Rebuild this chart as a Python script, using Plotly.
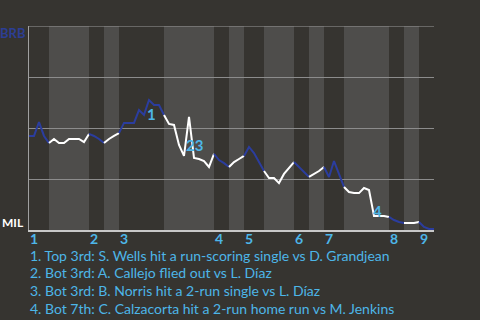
import plotly.graph_objects as go

# ---- data ----
# BRB win probability (%) after each plate appearance (index 0..81)
brb_wp = [46.1, 46.1, 52.9, 46.1, 42.6,
          44.6, 42.6, 42.6, 44.6, 44.6, 44.6, 43.1, 47.1,
          46.1, 44.6, 42.6,
          44.6, 46.1, 47.5,
          52.5, 52.5, 52.5, 58.8, 56.4, 63.7, 61.3, 61.3, 56.4,
          52.0, 51.5, 41.7, 36.3, 55.4, 35.3, 34.8, 33.8, 30.9, 37.3,
          34.3, 32.8, 30.9,
          33.3, 34.8, 36.3,
          40.7, 37.7, 33.3, 28.9,
          25.5, 25.5, 23.0, 27.5, 30.4, 33.3,
          30.9, 28.4, 26.0,
          27.5, 28.9, 30.9,
          26.0, 33.8, 27.5, 21.1,
          18.6, 18.1, 18.1, 20.6, 19.6, 6.9, 6.9, 6.9, 6.4,
          4.9, 3.9, 3.4,
          3.4, 3.4, 3.9,
          1.5, 0.5, 0.5]

# half-inning start indices (top 1st, bot 1st, top 2nd, ...), last ends at 81
half_starts = [0, 4, 12, 15, 18, 27, 37, 40, 43, 47, 53, 56, 59, 63, 72, 75, 78]
game_end = 81
inning_labels = ["1", "2", "3", "4", "5", "6", "7", "8", "9"]

# key events: label, PA index for marker label, label height (BRB %)
event_labels = ["1", "23", "4"]
event_x = [24.4, 33.0, 69.6]
event_y = [56.9, 41.7, 9.3]

event_notes = [
    "1. Top 3rd: S. Wells hit a run-scoring single vs D. Grandjean",
    "2. Bot 3rd: A. Callejo flied out vs L. Díaz",
    "3. Bot 3rd: B. Norris hit a 2-run single vs L. Díaz",
    "4. Bot 7th: C. Calzacorta hit a 2-run home run vs M. Jenkins",
]
away_team = "BRB"
home_team = "MIL"

# ---- style ----
BG = "#363430"
BAND = "#4e4d4b"
BLUE_LINE = "#2b3d9e"
TEXT_BLUE = "#4db6e8"
FONT = "Lato"

fig = go.Figure()

half_ends = half_starts[1:] + [game_end]
shapes = []
for i, (s, e) in enumerate(zip(half_starts, half_ends)):
    is_top = (i % 2 == 0)
    if not is_top:
        shapes.append(dict(type="rect", xref="x", yref="y", x0=s, x1=e, y0=0, y1=100,
                           fillcolor=BAND, line=dict(width=0), layer="below"))
    xs = list(range(s, e + 1))
    fig.add_trace(go.Scatter(
        x=xs, y=brb_wp[s:e + 1], mode="lines",
        line=dict(color=BLUE_LINE if is_top else "#ffffff", width=2),
        hoverinfo="skip", showlegend=False))

# top border line
shapes.append(dict(type="line", xref="x", yref="y", x0=0, x1=game_end, y0=100, y1=100,
                   line=dict(color="#9a9a9a", width=1.2)))

annotations = []
# inning labels at the start of each inning (top halves)
for k, lab in enumerate(inning_labels):
    annotations.append(dict(x=half_starts[2 * k], y=0, xref="x", yref="y", text=lab,
                            showarrow=False, xanchor="left", yanchor="top", yshift=1,
                            borderpad=0,
                            font=dict(family=FONT, size=14, color=TEXT_BLUE, weight="bold")))

for lab, ex, ey in zip(event_labels, event_x, event_y):
    annotations.append(dict(x=ex, y=ey, xref="x", yref="y", text=lab, showarrow=False,
                            xanchor="center", yanchor="middle",
                            font=dict(family=FONT, size=15, color=TEXT_BLUE, weight="bold")))

annotations.append(dict(x=0, y=100, xref="paper", yref="y", text=away_team, showarrow=False,
                        xanchor="right", yanchor="middle", xshift=-2, yshift=-7, borderpad=0,
                        font=dict(family=FONT, size=13, color="#2c3e94", weight="bold")))
annotations.append(dict(x=0, y=0, xref="paper", yref="y", text=home_team, showarrow=False,
                        xanchor="right", yanchor="middle", xshift=-4, yshift=8, borderpad=0,
                        font=dict(family=FONT, size=12, color="#ffffff", weight="bold")))

plot_top, plot_bottom = 26, 230
def paper_y(py):
    return (plot_bottom - py) / (plot_bottom - plot_top)

for j, note in enumerate(event_notes):
    annotations.append(dict(x=0, y=paper_y(255 + j * 17.7), xref="paper", yref="paper",
                            text=note, showarrow=False, xanchor="left", yanchor="middle",
                            xshift=0, borderpad=0,
                            font=dict(family=FONT, size=14, color=TEXT_BLUE)))

fig.update_layout(
    width=480, height=320,
    margin=dict(l=29, r=46, t=26, b=90),
    paper_bgcolor=BG, plot_bgcolor=BG,
    shapes=shapes, annotations=annotations,
    xaxis=dict(range=[0, game_end], showgrid=False, zeroline=False, showticklabels=False,
               showline=True, linecolor="#c8c8c8", linewidth=1.5, fixedrange=True),
    yaxis=dict(range=[0, 100], tickvals=[25, 50, 75], showticklabels=False,
               showgrid=True, gridcolor="#8c8c8c", gridwidth=1, zeroline=False,
               showline=True, linecolor="#a0a0a0", linewidth=1.2, fixedrange=True),
)

fig.write_html("out.html", config={"displayModeBar": False})
